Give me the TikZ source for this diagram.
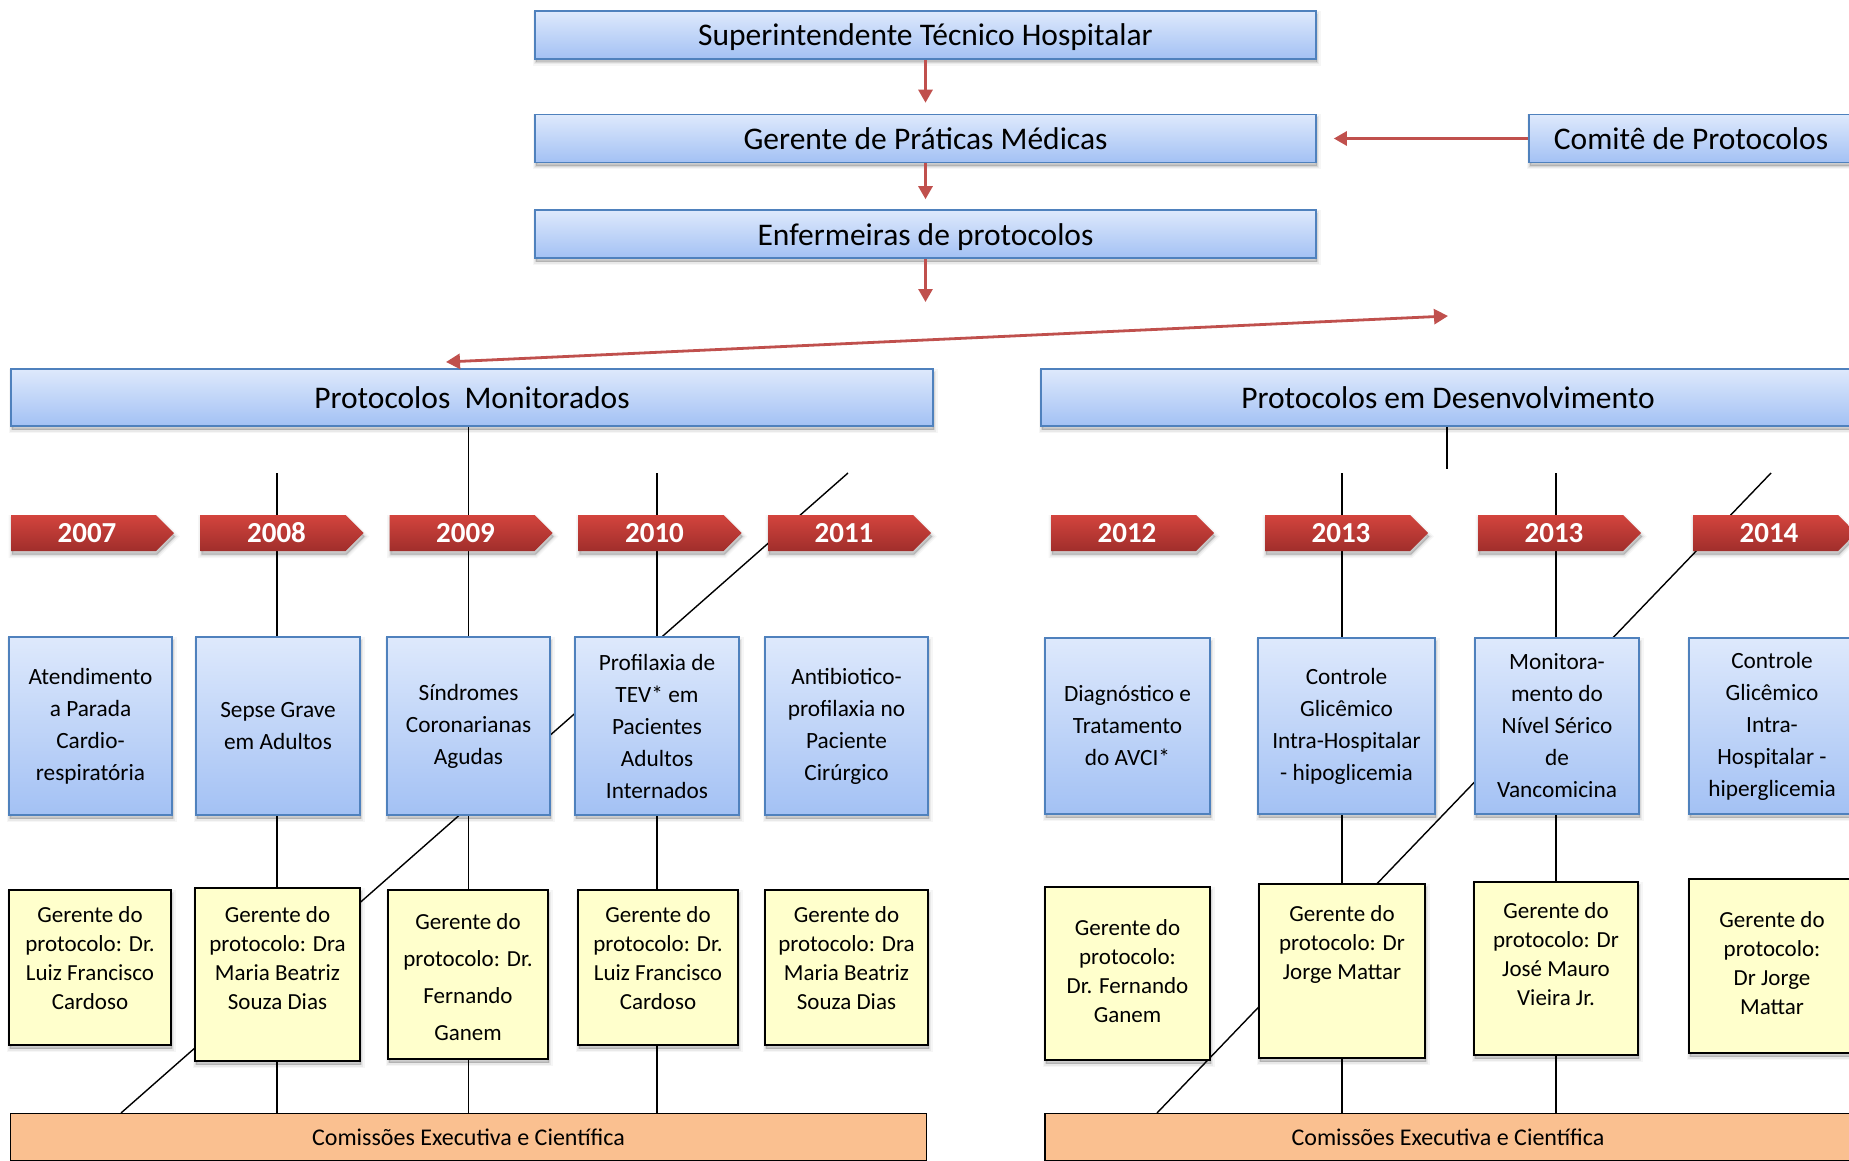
\documentclass[tikz,border=0pt]{standalone}
\usepackage{fontspec}
\setmainfont{Carlito}
\usetikzlibrary{arrows.meta,shapes.symbols,shadows,calc}
\pgfdeclarelayer{bg}
\pgfsetlayers{bg,main}
\definecolor{boxborder}{HTML}{4F81BD}
\definecolor{boxtop}{HTML}{DEE9FC}
\definecolor{boxbot}{HTML}{A3C1F4}
\definecolor{arrowred}{HTML}{C0504D}
\definecolor{chevtop}{HTML}{D3443D}
\definecolor{chevbot}{HTML}{A02E2B}
\definecolor{yfill}{HTML}{FFFFCC}
\definecolor{ofill}{HTML}{FAC090}
\tikzset{
  % soft shadow built from a few translucent, progressively wider copies
  softshadow/.style={
    general shadow={fill=black, draw=black, line width=7pt, opacity=0.035,
        shadow xshift=1pt, shadow yshift=-3.5pt},
    general shadow={fill=black, draw=black, line width=4pt, opacity=0.05,
        shadow xshift=1pt, shadow yshift=-3.5pt},
    general shadow={fill=black, draw=black, line width=1.5pt, opacity=0.08,
        shadow xshift=1pt, shadow yshift=-3.5pt}},
  bluebase/.style={rectangle, draw=boxborder, line width=1.6pt,
      top color=boxtop, bottom color=boxbot, softshadow, inner sep=0pt, align=center},
  headbox/.style={bluebase, minimum height=48pt, text height=23pt, text depth=1pt,
      font=\fontsize{31.5}{38}\selectfont},
  groupbox/.style={bluebase, minimum height=57pt, text height=23pt, text depth=1pt,
      font=\fontsize{31.5}{38}\selectfont},
  protobox/.style={bluebase, minimum height=178pt, minimum width=163pt,
      font=\fontsize{23.3}{32}\selectfont},
  yearchev/.style={signal, signal to=east, signal from=nowhere, signal pointer angle=90,
      minimum width=163pt, minimum height=36pt, inner sep=0pt,
      top color=chevtop, bottom color=chevbot, draw=none, text=white,
      font=\fontsize{29}{30}\selectfont\bfseries, softshadow,
      execute at begin node=\hspace*{7pt}},
  managerbox/.style={rectangle, draw=black, line width=1.8pt, fill=yfill,
      softshadow, inner sep=0pt},
  managertext/.style={align=center, anchor=center, inner sep=0pt,
      font=\fontsize{23}{29}\selectfont},
  commbox/.style={rectangle, draw=black, line width=1.8pt, fill=ofill,
      inner sep=0pt, minimum height=47pt, font=\fontsize{24}{28}\selectfont},
  redarrow/.style={draw=arrowred, line width=2.8pt, -{Triangle[length=13pt,width=14pt]}},
  redboth/.style={draw=arrowred, line width=2.8pt,
      {Triangle[length=14pt,width=15pt]}-{Triangle[length=14pt,width=15pt]}},
  tieline/.style={draw=black, line width=1.4pt},
}
\begin{document}
\begin{tikzpicture}[x=1pt,y=-1pt]
\useasboundingbox (0,0) rectangle (1849,1161);
\begin{pgfonlayer}{bg}
  \fill[white] (0,0) rectangle (1849,1161);
\end{pgfonlayer}

% management chain
\node[headbox, minimum width=781pt] (sup) at (925.5,35) {Superintendente Técnico Hospitalar};
\node[headbox, minimum width=781pt] (gpm) at (925.5,138.5) {Gerente de Práticas Médicas};
\node[headbox, minimum width=781pt] (enf) at (925.5,234) {Enfermeiras de protocolos};
\node[headbox, minimum width=324pt] (com) at (1691,138.5) {Comitê de Protocolos};

% the two protocol groups
\node[groupbox, minimum width=922pt] (pm) at (472,397.5) {Protocolos\ \ Monitorados};
\node[groupbox, minimum width=814pt] (pd) at (1448,397.5) {Protocolos em Desenvolvimento};

% year markers
\node[yearchev] (y07) at (83.5,533) {2007};
\node[yearchev] (y08) at (273,533) {2008};
\node[yearchev] (y09) at (462,533) {2009};
\node[yearchev] (y10) at (651,533) {2010};
\node[yearchev] (y11) at (840.5,533) {2011};
\node[yearchev] (y12) at (1123.5,533) {2012};
\node[yearchev] (y13a) at (1337.5,533) {2013};
\node[yearchev] (y13b) at (1550.5,533) {2013};
\node[yearchev] (y14) at (1765.5,533) {2014};

% protocols
\node[protobox] (b1) at (90.5,726) {Atendimento\\a Parada\\Cardio-\\respiratória};
\node[protobox, minimum width=164pt] (b2) at (278,726) {Sepse Grave\\em Adultos};
\node[protobox] (b3) at (468.5,726) {Síndromes\\Coronarianas\\Agudas};
\node[protobox, minimum width=164pt] (b4) at (657,726) {Profilaxia de\\TEV* em\\Pacientes\\Adultos\\Internados};
\node[protobox] (b5) at (846.5,726) {Antibiotico-\\profilaxia no\\Paciente\\Cirúrgico};
\node[protobox, minimum width=165pt, minimum height=176pt] (b6) at (1127.5,726) {Diagnóstico e\\Tratamento\\do AVCI*};
\node[protobox, minimum width=177pt, minimum height=176pt] (b7) at (1346.5,726) {Controle\\Glicêmico\\Intra-Hospitalar\\- hipoglicemia};
\node[protobox, minimum width=164pt, minimum height=176pt] (b8) at (1557,726) {Monitora-\\mento do\\Nível Sérico\\de\\Vancomicina};
\node[protobox, minimum width=166pt, minimum height=176pt] (b9) at (1772,726) {Controle\\Glicêmico\\Intra-\\Hospitalar -\\hiperglicemia};

% protocol managers
\node[managerbox, minimum width=162pt, minimum height=155pt] (g1) at (90,967.5) {};
\node[managerbox, minimum width=165pt, minimum height=173pt] (g2) at (277.5,974.5) {};
\node[managerbox, minimum width=160pt, minimum height=169pt] (g3) at (468,974.5) {};
\node[managerbox, minimum width=160pt, minimum height=155pt] (g4) at (658,967.5) {};
\node[managerbox, minimum width=163pt, minimum height=155pt] (g5) at (846.5,967.5) {};
\node[managerbox, minimum width=165pt, minimum height=173pt] (g6) at (1127.5,973.5) {};
\node[managerbox, minimum width=166pt, minimum height=174pt] (g7) at (1342,971) {};
\node[managerbox, minimum width=164pt, minimum height=173pt] (g8) at (1556,968.5) {};
\node[managerbox, minimum width=166pt, minimum height=174pt] (g9) at (1772,966) {};

\node[managertext] (g1t) at (90,958) {Gerente do\\protocolo: Dr.\\Luiz Francisco\\Cardoso};
\node[managertext] (g2t) at (277.5,958) {Gerente do\\protocolo: Dra\\Maria Beatriz\\Souza Dias};
\node[managertext, font=\fontsize{23}{37}\selectfont] (g3t) at (468,977) {Gerente do\\protocolo: Dr.\\Fernando\\Ganem};
\node[managertext] (g4t) at (658,958) {Gerente do\\protocolo: Dr.\\Luiz Francisco\\Cardoso};
\node[managertext] (g5t) at (846.5,958) {Gerente do\\protocolo: Dra\\Maria Beatriz\\Souza Dias};
\node[managertext] (g6t) at (1127.5,971) {Gerente do\\protocolo:\\Dr. Fernando\\Ganem};
\node[managertext] (g7t) at (1342,944) {Gerente do\\protocolo: Dr\\Jorge Mattar};
\node[managertext] (g8t) at (1556,953.7) {Gerente do\\protocolo: Dr\\José Mauro\\Vieira Jr.};
\node[managertext] (g9t) at (1772,963.5) {Gerente do\\protocolo:\\Dr Jorge\\Mattar};

% committees
\node[commbox, minimum width=916pt] (comL) at (468.5,1137) {Comissões Executiva e Científica};
\node[commbox, minimum width=806pt] (comR) at (1448,1137) {Comissões Executiva e Científica};

% free ends of connectors
\coordinate (enfend) at (925.5,302);
\coordinate (spanL) at (446,362);
\coordinate (spanR) at (1448,316);
\coordinate (pdend) at (1447,469);
\coordinate (t08) at (277,473);
\coordinate (t10) at (657,473);
\coordinate (t13a) at (1342,473);
\coordinate (t13b) at (1556,473);
\coordinate (dLa) at (848,473);
\coordinate (dLb) at (121,1113);
\coordinate (dRa) at (1771,473);
\coordinate (dRb) at (1157,1113);

% red arrows
\draw[redarrow, shorten >=11pt] (sup.south) -- (gpm.north);
\draw[redarrow, shorten >=10pt] (gpm.south) -- (enf.north);
\draw[redarrow] (enf.south) -- (enfend);
\draw[redarrow, shorten >=17pt] (com.west) -- (gpm.east);
\draw[redboth] (spanL) -- (spanR);

% timeline connectors behind the boxes
\begin{pgfonlayer}{bg}
  \draw[tieline] (t08) -- (t08 |- comL.north);
  \draw[tieline] (b3.north |- pm.south) -- (b3.north |- comL.north);
  \draw[tieline] (t10) -- (t10 |- comL.north);
  \draw[tieline] (pdend |- pd.south) -- (pdend);
  \draw[tieline] (t13a) -- (t13a |- comR.north);
  \draw[tieline] (t13b) -- (t13b |- comR.north);
  \draw[tieline] (dLa) -- (dLb);
  \draw[tieline] (dRa) -- (dRb);
\end{pgfonlayer}
\end{tikzpicture}
\end{document}
